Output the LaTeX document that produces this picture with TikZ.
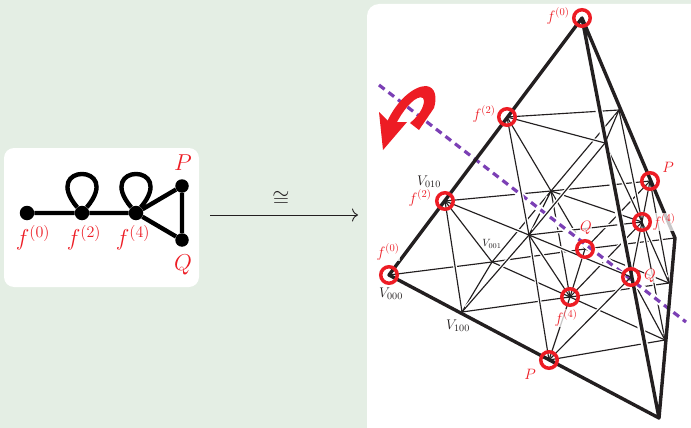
\documentclass[tikz,border=0pt]{standalone}
\usepackage{amsmath,amssymb}
\usepackage{fix-cm}
\usepackage{xcolor}
\usepackage{tikz}
\usetikzlibrary{arrows.meta,positioning}
\definecolor{palBack}{HTML}{E4EEE4}
\definecolor{palRed}{HTML}{ED1C24}
\definecolor{palPurple}{HTML}{7B3FB5}
\definecolor{palInk}{HTML}{231F20}
\newcommand{\fsize}[1]{\fontsize{#1}{#1}\selectfont}
\begin{document}
\begin{tikzpicture}[
  x=1pt, y=-1pt,
  panel/.style={fill=white, rounded corners=10pt},
  dot/.style={circle, fill=black, inner sep=0pt, minimum size=14.5pt},
  graphline/.style={line width=4.4pt, black},
  wire/.style={line width=1.15pt, palInk},
  halo/.style={line width=3.6pt, white, shorten >=6pt, shorten <=6pt},
  rim/.style={line width=3.4pt, palInk, line join=round},
  ring/.style={circle, draw=palRed, line width=3.5pt, inner sep=0pt, minimum size=16.5pt},
  biglabel/.style={text=palRed, font=\fsize{23}, inner sep=0pt},
  redlabel/.style={text=palRed, font=\fsize{15}, inner sep=0.5pt, fill=white, fill opacity=0.75, text opacity=1},
  blacklabel/.style={text=palInk, font=\fsize{14}, inner sep=0pt},
]
\clip (0,0) rectangle (691,428);
\fill[palBack] (0,0) rectangle (691,428);
\fill[panel] (4,148) rectangle (199,287);
\fill[panel, rounded corners=12pt] (367,4) rectangle (710,450);

% left graph
\node[dot] (f0) at (27,213) {};
\node[dot] (f2) at (82,213) {};
\node[dot] (f4) at (136,213) {};
\node[dot, minimum size=13.5pt] (gP) at (182,186) {};
\node[dot, minimum size=13.5pt] (gQ) at (182,240) {};
\draw[graphline] (f0) -- (f2) -- (f4) -- (gP) -- (gQ) -- (f4);
\draw[graphline] (f2) to[out=130,in=50,min distance=58pt] (f2);
\draw[graphline] (f4) to[out=130,in=50,min distance=58pt] (f4);
\node[biglabel] at (33,238) {$f^{(0)}$};
\node[biglabel] at (84,238) {$f^{(2)}$};
\node[biglabel] at (133,238) {$f^{(4)}$};
\node[biglabel] at (183,163) {$P$};
\node[biglabel] at (183,265) {$Q$};

% iso arrow
\coordinate (arrL) at (210,215);
\coordinate (arrR) at (358,215);
\draw[line width=0.9pt, palInk, -{To[length=6pt,width=13pt]}] (arrL) -- (arrR);
\node[font=\fsize{22}, text=palInk, inner sep=0pt] (iso) at (281,199) {$\cong$};

% grid points
\coordinate (v000) at (389,275);
\coordinate (v100) at (462,312);
\coordinate (v200) at (549,360);
\coordinate (v300) at (659,418);
\coordinate (v010) at (445,201);
\coordinate (v110) at (529,235);
\coordinate (v210) at (631,277);
\coordinate (v020) at (507,117);
\coordinate (v120) at (605,143);
\coordinate (v030) at (582,18);
\coordinate (v001) at (492,262);
\coordinate (v101) at (570,297);
\coordinate (v201) at (665,340);
\coordinate (v011) at (551,191);
\coordinate (v111) at (642,222);
\coordinate (v021) at (619,110);
\coordinate (v002) at (585,249);
\coordinate (v102) at (669,283);
\coordinate (v012) at (650,181);
\coordinate (v003) at (675,238);

% back lines, far ones first
\foreach \a/\b in {v002/v003, v002/v012, v002/v102, v012/v102,
  v001/v002, v011/v012, v101/v102, v011/v002, v101/v002, v111/v102, v111/v012,
  v001/v011, v011/v021, v001/v101, v101/v201, v011/v111, v101/v111, v011/v101, v021/v111, v111/v201,
  v000/v001, v010/v011, v100/v101, v020/v021, v110/v111, v200/v201, v010/v001, v020/v011,
  v110/v101, v120/v111, v210/v201, v100/v001, v200/v101, v110/v011, v210/v111, v120/v021} {
  \draw[halo] (\a) -- (\b);
  \draw[wire] (\a) -- (\b);
}

% axis, then the red arrow round it
\coordinate (axisA) at (379,85);
\coordinate (axisB) at (686,322);
\draw[line width=7pt, white, shorten <=60pt] (axisA) -- (axisB);
\draw[line width=3.2pt, palPurple, dash pattern=on 7pt off 5pt] (axisA) -- (axisB);
\fill[palRed] (383,150) -- (379,112) -- (389,122) -- (407,122) -- cycle;
\fill[palRed] (387,122) .. controls (397,100) and (414,86) .. (426,86)
  .. controls (436,87) and (437,98) .. (434,108) -- (419,130) -- (410,123)
  .. controls (421,114) and (426,103) .. (423,98) .. controls (417,94) and (404,108) .. (396,124) -- cycle;

% front face
\foreach \a/\b in {v010/v100, v020/v110, v110/v200, v100/v110, v110/v120, v200/v210,
  v010/v110, v110/v210, v020/v120} {
  \draw[halo] (\a) -- (\b);
  \draw[wire] (\a) -- (\b);
}

% rim
\foreach \a/\b in {v030/v120, v120/v210, v210/v300} {
  \draw[line width=7pt, white, shorten >=7pt, shorten <=7pt] (\a) -- (\b);
}
\draw[rim] (v030) -- (v003) -- (v300) -- (v000) -- (v030) -- (v300);

\node[redlabel] at (388,252) {$f^{(0)}$};
\node[redlabel] at (420,198) {$f^{(2)}$};
\node[redlabel] at (484,114) {$f^{(2)}$};
\node[redlabel] at (558,16) {$f^{(0)}$};
\node[redlabel] at (664,222) {$f^{(4)}$};
\node[redlabel] at (566,318) {$f^{(4)}$};
\node[redlabel] at (668,167) {$P$};
\node[redlabel] at (530,374) {$P$};
\node[redlabel] at (586,228) {$Q$};
\node[redlabel] at (650,276) {$Q$};
\node[blacklabel] at (429,182) {$V_{010}$};
\node[blacklabel] at (391,294) {$V_{000}$};
\node[blacklabel] at (458,326) {$V_{100}$};
\node[blacklabel, font=\fsize{10.5}] at (492,244) {$V_{001}$};

% marked points
\foreach \p in {v000, v030, v010, v020, v200, v012, v002, v210, v101, v111} {
  \node[ring] (r\p) at (\p) {};
}
\end{tikzpicture}
\end{document}
